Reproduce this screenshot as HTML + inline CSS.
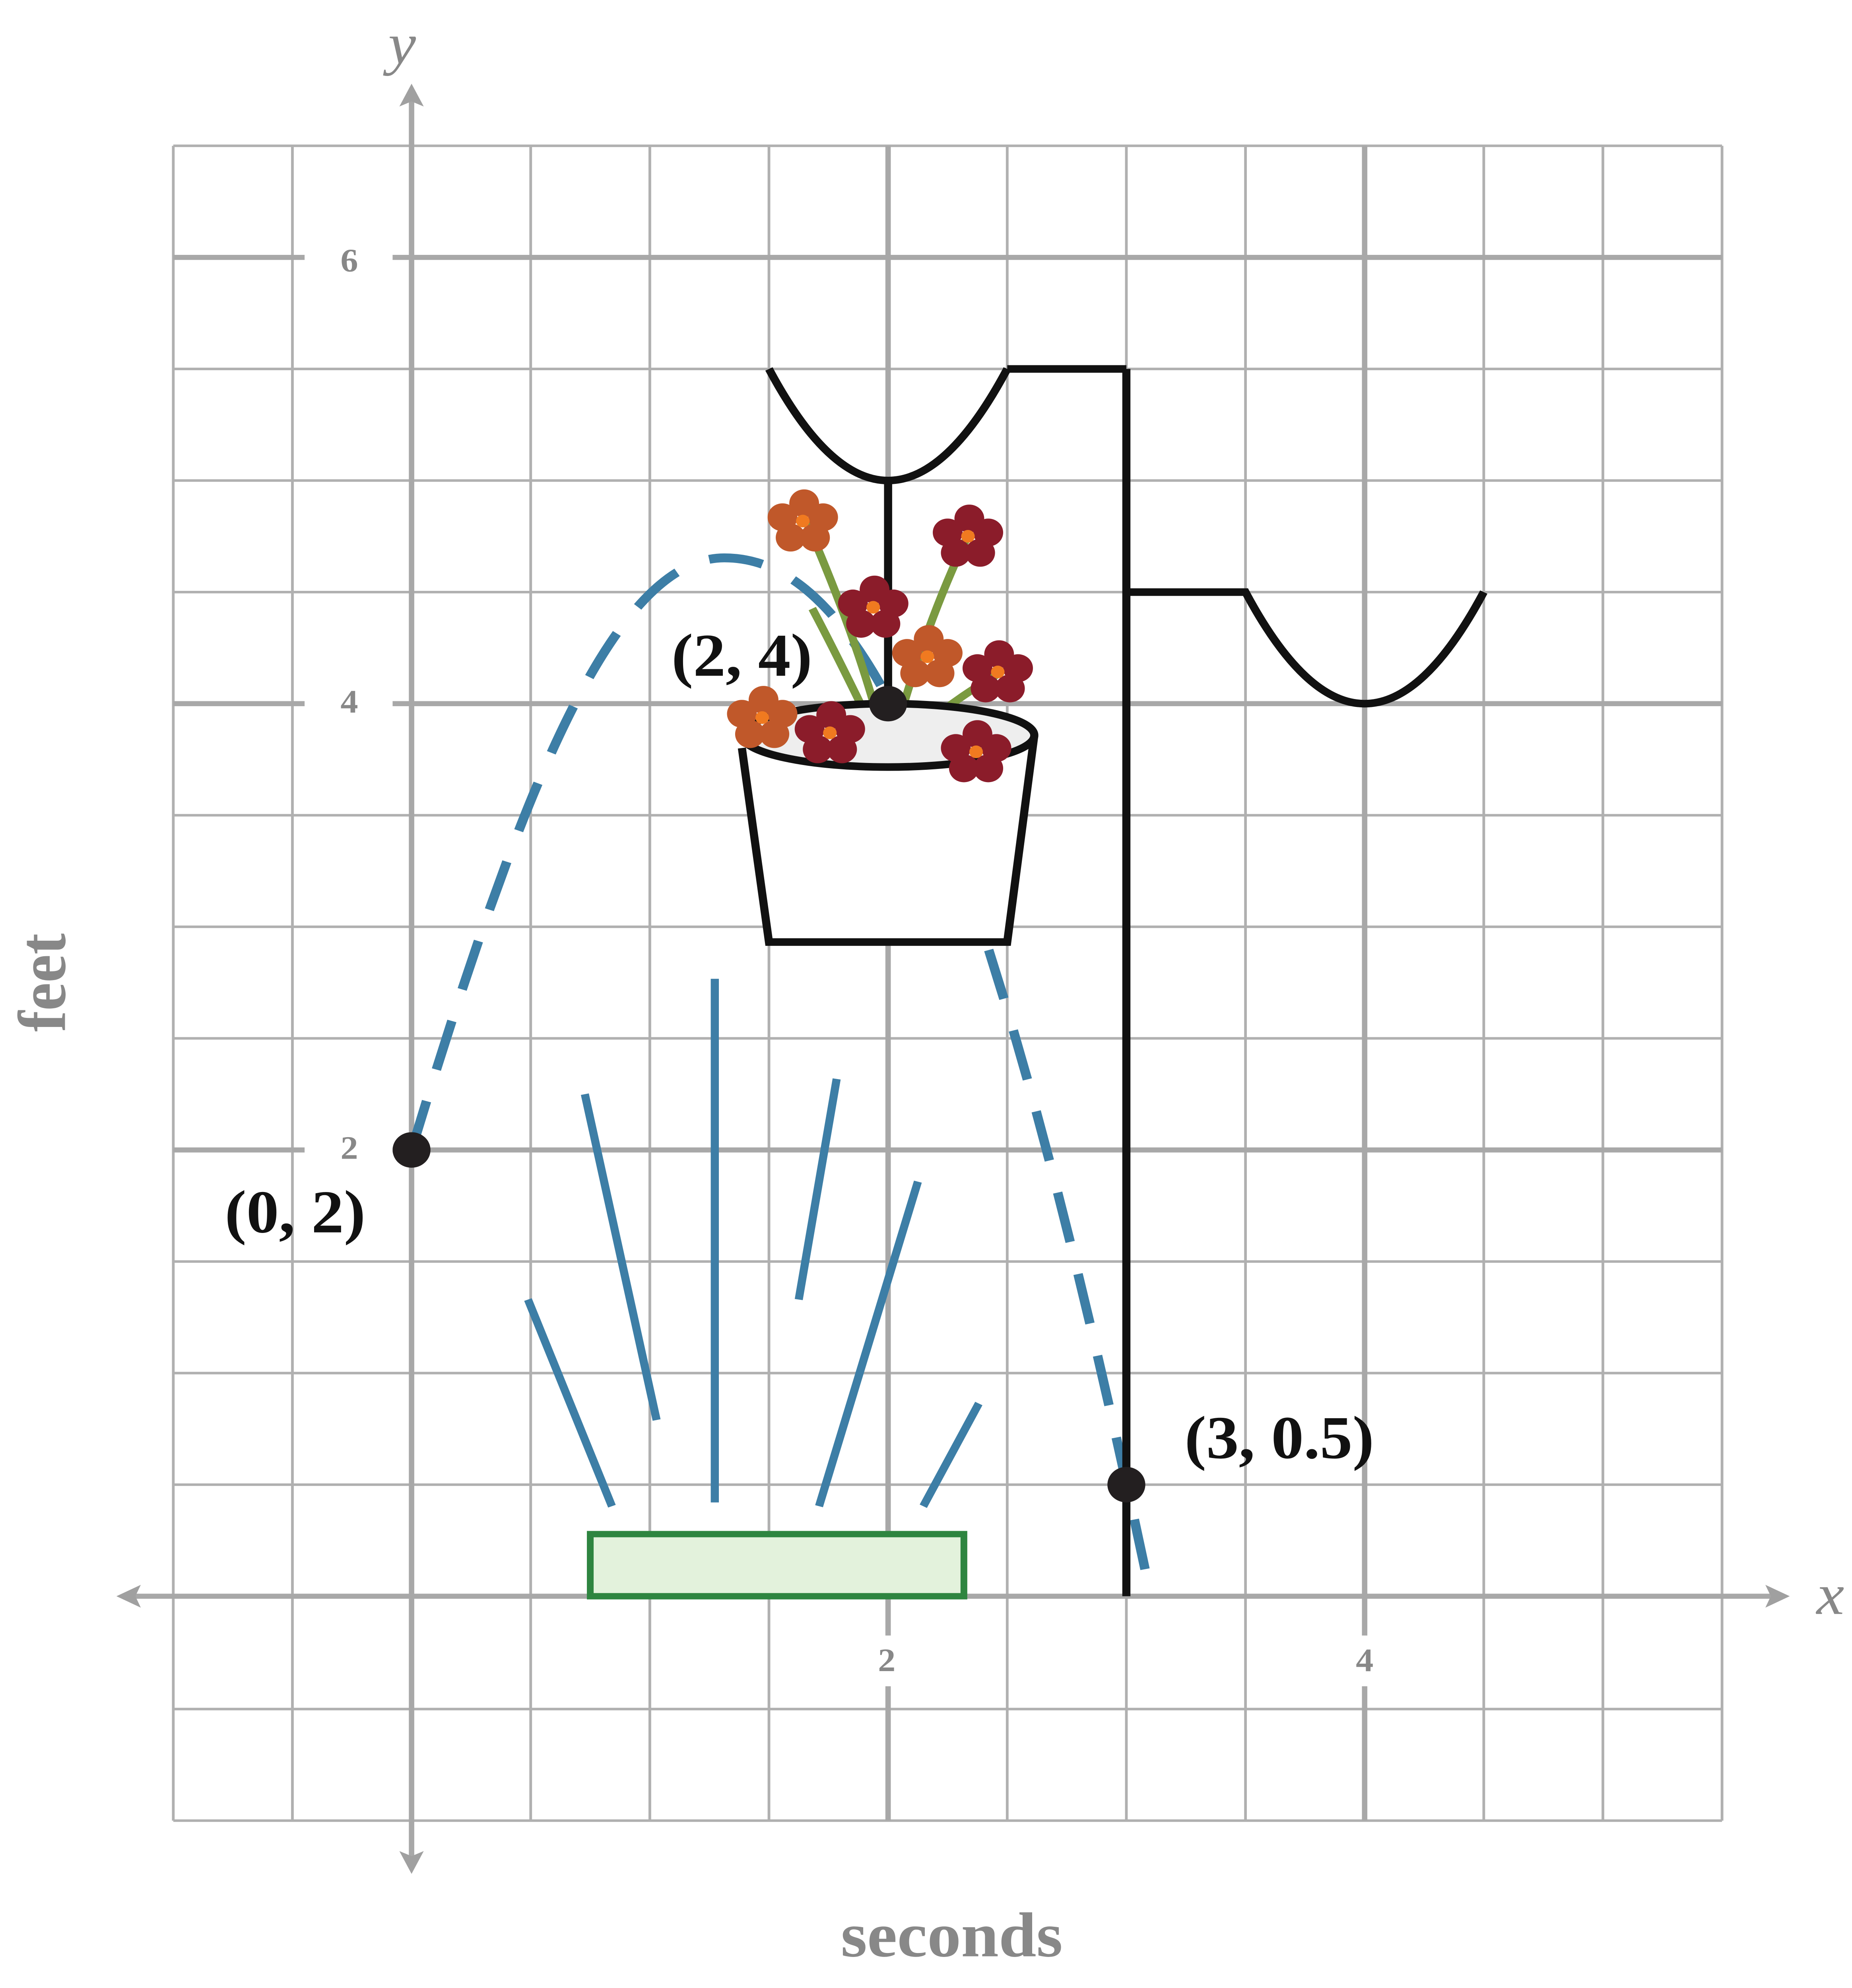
<!DOCTYPE html>
<html><head><meta charset="utf-8"><style>html,body{margin:0;padding:0;background:#fff;overflow:hidden}svg{display:block;position:fixed;left:0;top:0;width:100vw;height:100vh}</style></head>
<body>
<svg viewBox="0 0 1368 1568" preserveAspectRatio="none" xmlns="http://www.w3.org/2000/svg">
<rect width="1368" height="1568" fill="#fff"/>
<g stroke="#b0b0b0" stroke-width="2">
<line x1="128" y1="115" x2="128" y2="1436"/><line x1="216" y1="115" x2="216" y2="1436"/>
<line x1="392" y1="115" x2="392" y2="1436"/><line x1="480" y1="115" x2="480" y2="1436"/>
<line x1="568" y1="115" x2="568" y2="1436"/><line x1="744" y1="115" x2="744" y2="1436"/>
<line x1="832" y1="115" x2="832" y2="1436"/><line x1="920" y1="115" x2="920" y2="1436"/>
<line x1="1096" y1="115" x2="1096" y2="1436"/><line x1="1184" y1="115" x2="1184" y2="1436"/>
<line x1="1272" y1="115" x2="1272" y2="1436"/>
<line x1="128" y1="115" x2="1272" y2="115"/><line x1="128" y1="291" x2="1272" y2="291"/>
<line x1="128" y1="379" x2="1272" y2="379"/><line x1="128" y1="467" x2="1272" y2="467"/>
<line x1="128" y1="643" x2="1272" y2="643"/><line x1="128" y1="731" x2="1272" y2="731"/>
<line x1="128" y1="819" x2="1272" y2="819"/><line x1="128" y1="995" x2="1272" y2="995"/>
<line x1="128" y1="1083" x2="1272" y2="1083"/><line x1="128" y1="1171" x2="1272" y2="1171"/>
<line x1="128" y1="1348" x2="1272" y2="1348"/><line x1="128" y1="1436" x2="1272" y2="1436"/>
</g>
<g stroke="#a8a8a8" stroke-width="4">
<line x1="656" y1="115" x2="656" y2="1290"/><line x1="656" y1="1330" x2="656" y2="1436"/>
<line x1="1008" y1="115" x2="1008" y2="1290"/><line x1="1008" y1="1330" x2="1008" y2="1436"/>
<line x1="128" y1="203" x2="225" y2="203"/><line x1="290" y1="203" x2="1272" y2="203"/>
<line x1="128" y1="555" x2="225" y2="555"/><line x1="290" y1="555" x2="1272" y2="555"/>
<line x1="128" y1="907" x2="225" y2="907"/><line x1="290" y1="907" x2="1272" y2="907"/>
<line x1="95" y1="1259" x2="1310" y2="1259"/><line x1="304" y1="78" x2="304" y2="1468"/>
</g>
<g fill="#a0a0a0"><polygon points="86,1259 104,1250 100,1259 104,1268"/><polygon points="1322,1259 1304,1250 1308,1259 1304,1268"/>
<polygon points="304,66 295,84 304,80 313,84"/><polygon points="304,1478 295,1460 304,1464 313,1460"/></g>
<g font-family="Liberation Serif,serif" font-weight="bold" fill="#888" font-size="26" text-anchor="middle">
<text x="258" y="214">6</text><text x="258" y="562">4</text><text x="258" y="914">2</text>
<text x="655" y="1318">2</text><text x="1008" y="1318">4</text></g>
<text x="703" y="1543" font-family="Liberation Serif,serif" font-weight="bold" fill="#888" font-size="50" text-anchor="middle">seconds</text>
<text transform="translate(48,775) rotate(-90)" font-family="Liberation Serif,serif" font-weight="bold" fill="#888" font-size="50" text-anchor="middle">feet</text>
<text x="297" y="50" font-family="Liberation Serif,serif" font-style="italic" fill="#888" font-size="46" text-anchor="middle">y</text>
<text x="1352" y="1273" font-family="Liberation Serif,serif" font-style="italic" fill="#888" font-size="46" text-anchor="middle">x</text>
<path d="M304,907 C380,640 450,440 535,440 C630,440 720,600 850,1259" fill="none" stroke="#3d7ea6" stroke-width="7" stroke-dasharray="40,26"/>
<g stroke="#3d7ea6" stroke-width="6"><line x1="432" y1="863" x2="485" y2="1120"/><line x1="528" y1="772" x2="528" y2="1185"/>
<line x1="618" y1="851" x2="590" y2="1025"/><line x1="390" y1="1025" x2="452" y2="1188"/><line x1="678" y1="932" x2="605" y2="1188"/><line x1="723" y1="1107" x2="682" y2="1188"/></g>
<rect x="436" y="1210" width="276" height="49" fill="#e3f2dc" stroke="#2e8540" stroke-width="5"/>
<g fill="none" stroke="#111" stroke-width="6">
<line x1="832" y1="291" x2="832" y2="1259"/><path d="M744,291 H832"/><path d="M568,291 Q656,467 744,291"/>
<line x1="656" y1="379" x2="656" y2="555"/><path d="M832,467 H920 Q1008,643 1096,467"/></g>
<g fill="none" stroke="#7a9a40" stroke-width="6"><path d="M656,600 Q640,520 595,410"/><path d="M656,600 Q680,500 716,420"/><path d="M656,600 Q620,520 600,480"/><path d="M656,600 Q690,560 740,530"/><path d="M656,600 Q600,560 565,565"/><path d="M656,600 Q710,570 722,592"/></g>
<path d="M548,590 L568,743 L744,743 L764,580" fill="#fff" stroke="#111" stroke-width="6"/>
<ellipse cx="656" cy="580" rx="108" ry="25" fill="#eee" stroke="#111" stroke-width="6"/>
<g>
<g fill="#c0582a"><circle cx="594" cy="397" r="11"/><circle cx="608" cy="408" r="11"/><circle cx="602" cy="424" r="11"/><circle cx="584" cy="424" r="11"/><circle cx="578" cy="408" r="11"/></g>
<g fill="#c0582a"><circle cx="686" cy="504" r="11"/><circle cx="700" cy="515" r="11"/><circle cx="694" cy="531" r="11"/><circle cx="676" cy="531" r="11"/><circle cx="670" cy="515" r="11"/></g>
<g fill="#c0582a"><circle cx="564" cy="552" r="11"/><circle cx="578" cy="563" r="11"/><circle cx="572" cy="579" r="11"/><circle cx="554" cy="579" r="11"/><circle cx="548" cy="563" r="11"/></g>
<g fill="#8b1c2a"><circle cx="716" cy="409" r="11"/><circle cx="730" cy="420" r="11"/><circle cx="724" cy="436" r="11"/><circle cx="706" cy="436" r="11"/><circle cx="700" cy="420" r="11"/></g>
<g fill="#8b1c2a"><circle cx="646" cy="465" r="11"/><circle cx="660" cy="476" r="11"/><circle cx="654" cy="492" r="11"/><circle cx="636" cy="492" r="11"/><circle cx="630" cy="476" r="11"/></g>
<g fill="#8b1c2a"><circle cx="738" cy="516" r="11"/><circle cx="752" cy="527" r="11"/><circle cx="746" cy="543" r="11"/><circle cx="728" cy="543" r="11"/><circle cx="722" cy="527" r="11"/></g>
<g fill="#8b1c2a"><circle cx="614" cy="564" r="11"/><circle cx="628" cy="575" r="11"/><circle cx="622" cy="591" r="11"/><circle cx="604" cy="591" r="11"/><circle cx="598" cy="575" r="11"/></g>
<g fill="#8b1c2a"><circle cx="722" cy="579" r="11"/><circle cx="736" cy="590" r="11"/><circle cx="730" cy="606" r="11"/><circle cx="712" cy="606" r="11"/><circle cx="706" cy="590" r="11"/></g>
<g fill="#f07a20"><circle cx="593" cy="411" r="5"/><circle cx="685" cy="518" r="5"/><circle cx="563" cy="566" r="5"/><circle cx="715" cy="423" r="5"/><circle cx="645" cy="479" r="5"/><circle cx="737" cy="530" r="5"/><circle cx="613" cy="578" r="5"/><circle cx="721" cy="593" r="5"/></g>
</g>
<g fill="#231f20"><circle cx="304" cy="907" r="14"/><circle cx="656" cy="555" r="14"/><circle cx="832" cy="1171" r="14"/></g>
<g font-family="Liberation Serif,serif" font-weight="bold" fill="#111" font-size="48" text-anchor="middle">
<text x="218" y="972">(0, 2)</text><text x="548" y="533">(2, 4)</text><text x="945" y="1150">(3, 0.5)</text></g>
</svg>
</body></html>
